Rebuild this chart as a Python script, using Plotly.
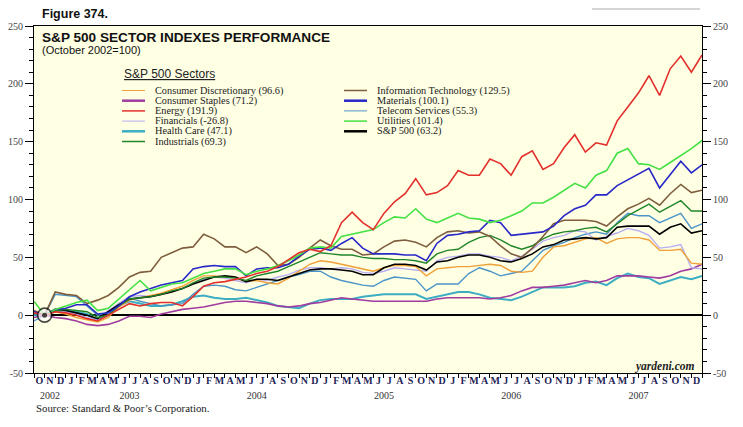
import plotly.graph_objects as go

# ---------------- data (Oct 2002 = 100, shown as % change; monthly) ----------------
sector_names = ["Consumer Discretionary", "Consumer Staples", "Energy", "Financials",
                "Health Care", "Industrials", "Information Technology", "Materials",
                "Telecom Services", "Utilities", "S&P 500"]
legend_values = ["96.6", "71.2", "191.9", "-26.8", "47.1", "69.3",
                 "129.5", "100.1", "55.3", "101.4", "63.2"]

consumer_discretionary = [3, 0, 3, 1, -2, -4, -6, -2, 7, 13,
                          15, 17, 19, 22, 25, 30, 34, 34, 33, 32,
                          29, 30, 28, 27, 32, 38, 44, 47, 46, 44,
                          42, 40, 38, 41, 43, 43, 42, 34, 40, 41,
                          42, 42, 43, 44, 43, 38, 37, 38, 50, 59,
                          60, 63, 66, 67, 62, 66, 67, 67, 65, 56,
                          56, 57, 45, 44]
consumer_staples = [-2, 0, -2, -3, -5, -8, -9, -8, -5, -1,
                    -1, -2, 1, 3, 5, 6, 7, 9, 11, 12,
                    12, 11, 10, 8, 7, 8, 10, 11, 13, 15,
                    14, 13, 12, 12, 12, 12, 12, 12, 14, 15,
                    15, 15, 15, 14, 15, 17, 21, 24, 24, 25,
                    26, 28, 30, 28, 30, 34, 34, 34, 33, 32,
                    34, 38, 40, 44]
energy = [2, 0, 3, 2, 0, -3, -5, 0, 5, 10,
          8, 10, 11, 11, 8, 16, 25, 28, 29, 31,
          33, 36, 38, 42, 48, 54, 57, 55, 60, 80,
          89, 80, 74, 88, 98, 105, 118, 104, 106, 112,
          125, 121, 121, 135, 131, 121, 137, 142, 126, 131,
          145, 156, 141, 149, 147, 168, 180, 192, 207, 190,
          213, 224, 210, 225]
financials = [2, 0, 5, 3, 1, -2, -4, 4, 10, 16,
              17, 16, 18, 21, 23, 27, 31, 33, 32, 30,
              28, 31, 30, 33, 35, 39, 41, 41, 40, 41,
              40, 37, 36, 38, 41, 40, 39, 38, 47, 50,
              51, 53, 53, 51, 50, 47, 51, 57, 64, 67,
              69, 73, 72, 65, 68, 71, 75, 73, 69, 58,
              59, 61, 41, 40]
health_care = [0, 0, 3, 4, 3, 1, -4, 0, 8, 12,
               10, 8, 8, 9, 12, 16, 17, 15, 14, 14,
               15, 13, 11, 8, 7, 6, 10, 13, 14, 14,
               14, 16, 17, 18, 18, 18, 18, 14, 16, 18,
               20, 20, 18, 15, 14, 13, 16, 20, 24, 24,
               24, 25, 28, 29, 26, 32, 36, 33, 32, 27,
               30, 33, 31, 34]
industrials = [3, 0, 4, 5, 4, 3, -2, 0, 8, 14,
               15, 16, 18, 21, 23, 28, 32, 33, 33, 32,
               30, 34, 36, 38, 42, 46, 50, 54, 53, 52,
               52, 50, 49, 49, 48, 48, 47, 45, 53, 56,
               57, 63, 67, 69, 65, 60, 57, 60, 66, 70,
               72, 73, 75, 76, 72, 79, 86, 91, 96, 89,
               94, 99, 90, 90]
information_technology = [4, 0, 20, 18, 17, 10, 13, 17, 24, 33,
                          37, 38, 50, 54, 58, 59, 70, 66, 59, 59,
                          54, 59, 53, 43, 44, 50, 58, 65, 60, 57,
                          57, 52, 53, 59, 64, 65, 63, 59, 67, 72,
                          73, 71, 72, 68, 60, 53, 50, 58, 68, 79,
                          82, 82, 82, 81, 77, 85, 92, 96, 101, 95,
                          105, 113, 106, 108]
materials = [3, 0, 5, 6, 9, 9, 1, 2, 8, 16,
             20, 23, 26, 28, 30, 40, 42, 43, 42, 42,
             34, 40, 41, 41, 44, 51, 57, 58, 56, 62,
             67, 58, 53, 53, 53, 52, 52, 47, 62, 69,
             70, 72, 73, 82, 80, 69, 70, 71, 72, 77,
             86, 92, 95, 104, 104, 112, 117, 122, 127, 110,
             122, 133, 123, 130]
telecom_services = [-5, 0, 18, 17, 16, 8, 0, 2, 10, 15,
                    12, 10, 8, 9, 10, 18, 25, 26, 25, 22,
                    21, 24, 27, 30, 33, 35, 38, 38, 33, 30,
                    28, 26, 25, 30, 33, 32, 31, 21, 27, 27,
                    27, 36, 41, 38, 34, 36, 38, 47, 56, 60,
                    63, 67, 70, 72, 70, 80, 88, 86, 86, 80,
                    84, 88, 75, 79]
utilities = [12, 0, 5, 8, 11, 13, 4, 6, 14, 22,
             30, 21, 24, 27, 28, 32, 36, 38, 40, 40,
             35, 38, 40, 43, 47, 52, 58, 59, 58, 68,
             70, 72, 74, 80, 85, 84, 92, 83, 80, 84,
             88, 84, 83, 80, 82, 86, 90, 97, 97, 102,
             108, 114, 110, 121, 125, 140, 144, 131, 130, 126,
             132, 138, 144, 151]
sp500 = [3, 0, 5, 4, 2, 0, -3, 3, 9, 14,
         15, 16, 18, 20, 23, 27, 30, 33, 34, 33,
         29, 31, 31, 30, 33, 36, 39, 40, 40, 39,
         38, 35, 35, 41, 44, 44, 43, 39, 46, 47,
         50, 52, 52, 50, 47, 46, 49, 53, 59, 61,
         65, 66, 67, 66, 67, 76, 77, 77, 77, 70,
         76, 79, 71, 73]

month_letters = ["O", "N", "D"] + ["J", "F", "M", "A", "M", "J", "J", "A", "S", "O", "N", "D"] * 5
year_labels = ["2002", "2003", "2004", "2005", "2006", "2007"]
year_months = [3, 12, 12, 12, 12, 12]
base_month = 1      # October 2002
base_value = 0

series = [consumer_discretionary, consumer_staples, energy, financials, health_care, industrials,
          information_technology, materials, telecom_services, utilities, sp500]

# ---------------- styles ----------------
colors = ["#F0A038", "#A03CA0", "#E3302C", "#B6AEF0", "#3CADC2", "#21862A",
          "#7E5E3E", "#2828C8", "#4A94C8", "#44E044", "#000000"]
line_w = [1.4, 1.6, 1.6, 1.4, 2.0, 1.4, 1.6, 1.6, 1.4, 1.6, 1.6]
swatch_w = [1, 2.5, 1.5, 1, 2.5, 1.5, 1.5, 2.5, 1, 1.5, 2.5]
draw_order = [4, 8, 1, 3, 0, 10, 5, 6, 7, 9, 2]

# page body has an 8px margin: size the figure so it sits inside the 743x427 window
OFF = 8
W, H = 735, 419
L, R, T, B = 26, 41, 18, 54
pw, ph = W - L - R, H - T - B


def px(x):
    return (x - OFF - L) / pw


def py(y):
    return (H - B - (y - OFF)) / ph


n_points = len(sp500)
x_idx = list(range(n_points))
x_max = n_points - 1

fig = go.Figure()
for k in draw_order:
    fig.add_trace(go.Scatter(x=x_idx, y=series[k], mode="lines", name=sector_names[k],
                             line=dict(color=colors[k], width=line_w[k]), showlegend=False))

# base marker (October 2002 = 100)
fig.add_trace(go.Scatter(x=[base_month, base_month], y=[base_value, base_value], mode="markers",
                         marker=dict(size=[14, 5], color=["white", "black"],
                                     line=dict(color="black", width=[1.6, 0])),
                         showlegend=False, hoverinfo="skip"))

# helper traces for overlay axes
fig.add_trace(go.Scatter(x=[], y=[], xaxis="x2", yaxis="y", showlegend=False, hoverinfo="skip"))
fig.add_trace(go.Scatter(x=[], y=[], xaxis="x3", yaxis="y", showlegend=False, hoverinfo="skip"))
fig.add_trace(go.Scatter(x=[], y=[], xaxis="x", yaxis="y2", showlegend=False, hoverinfo="skip"))

# tick positions
year_bounds = []
acc = 0
year_centers = []
for m in year_months:
    year_centers.append(acc + m / 2)
    acc += m
    year_bounds.append(acc)
year_bounds = year_bounds[:-1]
month_centers = [i + 0.5 for i in range(len(month_letters))]

serif = "Liberation Serif, Times New Roman, serif"
sans = "Liberation Sans, Arial, sans-serif"

yticks = list(range(-50, 251, 50))
yaxis_common = dict(range=[-50, 250], tickmode="array", tickvals=yticks,
                    ticktext=[str(v) for v in yticks], ticks="outside", ticklen=8,
                    tickwidth=1, tickcolor="black", automargin=False,
                    minor=dict(tickmode="linear", tick0=0, dtick=10, ticks="outside",
                               ticklen=4, tickcolor="black", tickwidth=1, showgrid=False),
                    showgrid=False, showline=True, linecolor="black", linewidth=1,
                    tickfont=dict(family=serif, size=10, color="#444444"), fixedrange=True)

fig.update_layout(
    width=W, height=H,
    margin=dict(l=L, r=R, t=T, b=B, pad=0, autoexpand=False),
    paper_bgcolor="white", plot_bgcolor="#FFFFE4",
    showlegend=False,
    xaxis=dict(range=[0, x_max], tickmode="array", tickvals=year_bounds,
               ticktext=[""] * len(year_bounds), ticks="outside", ticklen=12,
               tickcolor="black", tickwidth=1, showticklabels=False, automargin=False,
               minor=dict(tickmode="linear", tick0=0, dtick=1, ticks="outside", ticklen=4,
                          tickcolor="black", tickwidth=1, showgrid=False),
               showgrid=False, zeroline=False, showline=True, linecolor="black",
               linewidth=1, mirror=True),
    xaxis2=dict(range=[0, x_max], overlaying="x", anchor="y", side="bottom",
                tickmode="array", tickvals=month_centers, tickangle=0, automargin=False,
                ticktext=["<b>" + s + "</b>" for s in month_letters], ticks="",
                showgrid=False, zeroline=False, showline=False,
                tickfont=dict(family=serif, size=10, color="#1E1E55")),
    xaxis3=dict(range=[0, x_max], overlaying="x", anchor="y", side="bottom",
                tickmode="array", tickvals=year_centers, ticktext=year_labels,
                tickangle=0, automargin=False,
                ticks="outside", ticklen=13, tickcolor="rgba(0,0,0,0)",
                showgrid=False, zeroline=False, showline=False,
                tickfont=dict(family=serif, size=10, color="#333333")),
    yaxis=dict(**yaxis_common, zeroline=True, zerolinecolor="black", zerolinewidth=1.5),
    yaxis2=dict(**yaxis_common, overlaying="y", side="right", anchor="x", zeroline=False),
)

ann = []
shapes = []
ann.append(dict(text="<b>Figure 374.</b>", x=px(40), y=py(14), xref="paper", yref="paper",
                xanchor="left", yanchor="middle", showarrow=False,
                font=dict(family=sans, size=12.5, color="#111111")))
ann.append(dict(text="<b>S&P 500 SECTOR INDEXES PERFORMANCE</b>", x=px(40), y=py(37),
                xref="paper", yref="paper", xanchor="left", yanchor="middle", showarrow=False,
                font=dict(family=sans, size=13.6, color="#111111")))
ann.append(dict(text="(October 2002=100)", x=px(40), y=py(50), xref="paper", yref="paper",
                xanchor="left", yanchor="middle", showarrow=False,
                font=dict(family=sans, size=11, color="#111111")))
ann.append(dict(text="<u>S&P 500 Sectors</u>", x=px(122), y=py(74), xref="paper", yref="paper",
                xanchor="left", yanchor="middle", showarrow=False,
                font=dict(family=sans, size=12, color="#222222")))

# manual two-column legend
col_split = 6
row_y0, row_dy = 90.5, 10.2
for k, name in enumerate(sector_names):
    col = 0 if k < col_split else 1
    row = k if k < col_split else k - col_split
    yy = row_y0 + row * row_dy
    sx0, sx1, tx = (122, 145, 153) if col == 0 else (344, 367, 375)
    shapes.append(dict(type="line", xref="paper", yref="paper", x0=px(sx0), x1=px(sx1),
                       y0=py(yy), y1=py(yy), line=dict(color=colors[k], width=swatch_w[k])))
    ann.append(dict(text=f"{name} ({legend_values[k]})", x=px(tx), y=py(yy), xref="paper",
                    yref="paper", xanchor="left", yanchor="middle", showarrow=False,
                    font=dict(family=serif, size=10.3, color="#222222")))

ann.append(dict(text="<b><i>yardeni.com</i></b>", x=px(697), y=py(366), xref="paper",
                yref="paper", xanchor="right", yanchor="middle", showarrow=False,
                font=dict(family=serif, size=11.5, color="#222222")))
ann.append(dict(text="Source: Standard & Poor\u2019s Corporation.", x=px(34), y=py(408),
                xref="paper", yref="paper", xanchor="left", yanchor="middle", showarrow=False,
                font=dict(family=serif, size=10.8, color="#222222")))

shapes.append(dict(type="line", xref="paper", yref="paper", x0=px(592), x1=px(700),
                   y0=py(9), y1=py(9), line=dict(color="#AAAAAA", width=1)))

fig.update_layout(annotations=ann, shapes=shapes)
fig.write_html("out.html")
